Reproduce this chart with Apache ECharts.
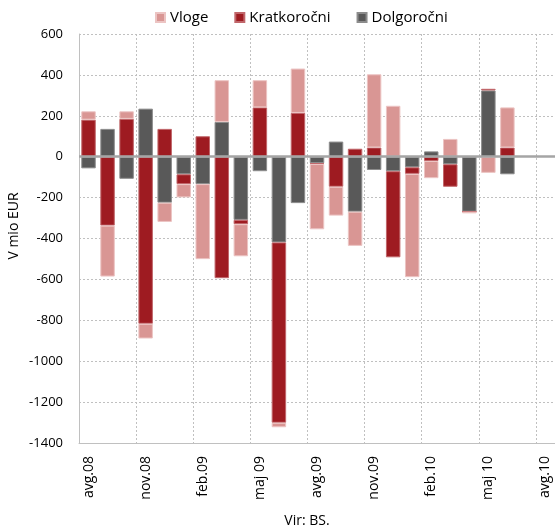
<!DOCTYPE html>
<html>
<head>
<meta charset="utf-8">
<script src="https://cdn.jsdelivr.net/npm/echarts@6/dist/echarts.min.js"></script>
<style>
  html, body { margin: 0; padding: 0; background: #ffffff; }
  #chart { width: 555px; height: 532px; }
</style>
</head>
<body>
<div id="chart"></div>
<script>
// Monthly flows, mio EUR
const months = ['avg.08','sep.08','okt.08','nov.08','dec.08','jan.09','feb.09','mar.09','apr.09','maj 09','jun.09','jul.09',
                'avg.09','sep.09','okt.09','nov.09','dec.09','jan.10','feb.10','mar.10','apr.10','maj 10','jun.10','jul.10','avg.10'];
const dolgorocni  = [-57, 136, -108, 235, -225, -86, -134, 170, -309, -71, -419, -227,
                     -32, 74, -269, -65, -71, -52, 26, -37, -269, 324, -86, null, null];
const kratkorocni = [181, -337, 185, -817, 136, -48, 100, -594, -21, 241, -882, 214,
                     -4, -147, 39, 45, -421, -32, -21, -110, 0, 8, 45, null, null];
const vloge       = [41, -249, 37, -72, -94, -65, -367, 204, -157, 133, -22, 217,
                     -319, -141, -167, 358, 249, -505, -84, 87, -8, -79, 196, null, null];
const yTicks = { min: -1400, max: 600, step: 200 };

const FONT = 'Open Sans';
const COL_VLOGE = '#d99694';
const COL_KRATK = '#9e1b21';
const COL_DOLG  = '#595959';

const chart = echarts.init(document.getElementById('chart'), null, { renderer: 'canvas' });

function barSeries(name, data, color, border) {
  return {
    name: name,
    type: 'bar',
    stack: 'tok',
    data: data,
    barCategoryGap: '24%',
    itemStyle: { color: color, borderColor: border, borderWidth: 1 },
    emphasis: { disabled: true }
  };
}

const series = [
  barSeries('Dolgoročni', dolgorocni, COL_DOLG, '#8c8c8c'),
  barSeries('Kratkoročni', kratkorocni, COL_KRATK, '#c0666a'),
  barSeries('Vloge', vloge, COL_VLOGE, '#ecc4c3')
];
// zero line across the plot
series[0].markLine = {
  silent: true,
  symbol: ['none', 'none'],
  label: { show: false },
  lineStyle: { color: '#a5a5a5', width: 2.5, type: 'solid' },
  data: [{ yAxis: 0 }]
};

chart.setOption({
  animation: false,
  backgroundColor: '#ffffff',
  textStyle: { fontFamily: FONT },
  legend: {
    data: ['Vloge', 'Kratkoročni', 'Dolgoročni'],
    top: 5,
    left: 150,
    icon: 'rect',
    itemWidth: 9,
    itemHeight: 9,
    itemGap: 26,
    textStyle: { fontFamily: FONT, fontSize: 15, color: '#000000' }
  },
  grid: { left: 79, right: 0, top: 34, bottom: 89, containLabel: false },
  xAxis: {
    type: 'category',
    data: months,
    boundaryGap: true,
    axisLine: { onZero: false, lineStyle: { color: '#c0c0c0', width: 1 } },
    axisTick: { show: false },
    axisLabel: {
      interval: 2,
      rotate: 90,
      margin: 13,
      fontFamily: FONT,
      fontSize: 14,
      color: '#000000'
    },
    splitLine: { show: true, interval: 2, lineStyle: { color: '#c0c0c0', type: [2, 2], width: 1 } }
  },
  yAxis: {
    type: 'value',
    min: yTicks.min,
    max: yTicks.max,
    interval: yTicks.step,
    axisLine: { show: true, lineStyle: { color: '#c0c0c0', width: 1 } },
    axisTick: { show: false },
    axisLabel: {
      margin: 16, fontFamily: FONT, fontSize: 13, color: '#000000',
      formatter: function (v) { return String(v); }
    },
    splitLine: { show: true, lineStyle: { color: '#c0c0c0', type: [2, 2], width: 1 } }
  },
  graphic: [
    {
      type: 'text',
      x: 14, y: 226,
      rotation: Math.PI / 2,
      style: {
        text: 'V mio EUR',
        font: '14px "Open Sans"',
        fill: '#000000',
        align: 'center',
        verticalAlign: 'middle'
      }
    },
    {
      type: 'text',
      x: 307, y: 521,
      style: {
        text: 'Vir: BS.',
        font: '14px "Open Sans"',
        fill: '#000000',
        align: 'center',
        verticalAlign: 'middle'
      }
    }
  ],
  series: series
});
</script>
</body>
</html>
